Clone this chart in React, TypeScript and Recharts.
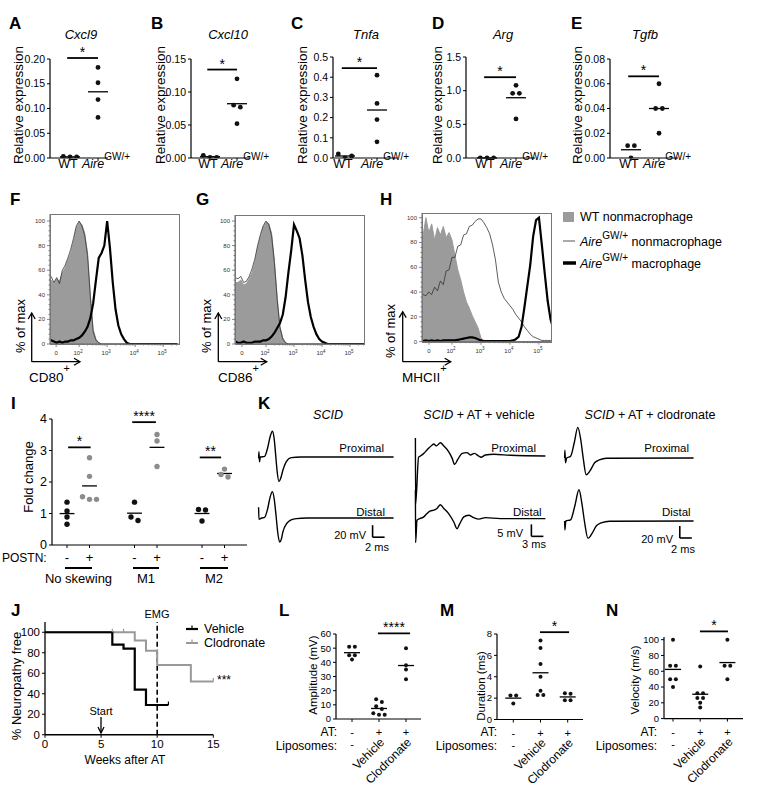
import React from 'react';
import {
  ScatterChart,
  Scatter,
  ComposedChart,
  LineChart,
  Line,
  Area,
  XAxis,
  YAxis,
  ReferenceLine,
  ReferenceDot,
} from 'recharts';

const FONT = '"Liberation Sans", Arial, Helvetica, sans-serif';
const BLACK = '#111';
const GRAY = '#8c8c8c';

// ---------- A–E: relative expression ----------
const genotypes = ['WT', 'Aire'];
const aireSup = 'GW/+';
const cxcl9WT = [0.003, 0.002, 0.002];
const cxcl9Aire = [0.183, 0.152, 0.118, 0.082];
const cxcl10WT = [0.004, 0.001, 0.001];
const cxcl10Aire = [0.12, 0.08, 0.077, 0.052];
const tnfaWT = [0.02, 0.0, 0.01];
const tnfaAire = [0.41, 0.27, 0.19, 0.08];
const argWT = [0, 0, 0];
const argAire = [1.08, 0.96, 0.96, 0.58];
const tgfbWT = [0.01, 0.01, 0.0];
const tgfbAire = [0.06, 0.04, 0.04, 0.02];
const cxcl9Ticks = [0, 0.05, 0.1, 0.15, 0.2];
const cxcl10Ticks = [0, 0.05, 0.1, 0.15];
const tnfaTicks = [0, 0.1, 0.2, 0.3, 0.4, 0.5];
const argTicks = [0, 0.5, 1.0, 1.5];
const tgfbTicks = [0, 0.02, 0.04, 0.06, 0.08];

// ---------- F–H: flow histograms (% of max vs log fluorescence, decades) ----------
const histX = [-0.1, 0, 0.1, 0.2, 0.3, 0.4, 0.5, 0.6, 0.7, 0.8, 0.9, 1, 1.1, 1.2, 1.3, 1.4, 1.5, 1.6, 1.7, 1.8, 1.9, 2, 2.1, 2.2, 2.3, 2.4, 2.5, 2.6, 2.7, 2.8, 2.9, 3, 3.1, 3.2, 3.3, 3.4, 3.5, 3.6, 3.7, 3.8, 3.9, 4, 4.1, 4.2, 4.3, 4.4, 4.5];
const cd80Wt = [52, 52, 49, 53, 51, 58, 62, 68, 74, 83, 94, 99, 97, 90, 74, 40, 12, 4, 1, 0, 0, 0, 0, 0, 0, 0, 0, 0, 0, 0, 0, 0, 0, 0, 0, 0, 0, 0, 0, 0, 0, 0, 0, 0, 0, 0, 0];
const cd80AireNon = [56, 55, 50, 54, 49, 60, 64, 70, 77, 86, 96, 100, 96, 88, 72, 38, 10, 3, 1, 0, 0, 0, 0, 0, 0, 0, 0, 0, 0, 0, 0, 0, 0, 0, 0, 0, 0, 0, 0, 0, 0, 0, 0, 0, 0, 0, 0];
const cd80AireMac = [4, 3, 2, 1, 2, 1, 2, 2, 3, 3, 4, 5, 7, 10, 14, 21, 33, 52, 70, 74, 80, 100, 78, 50, 28, 15, 8, 4, 1, 0, 0, 0, 0, 0, 0, 0, 0, 0, 0, 0, 0, 0, 0, 0, 0, 0, 0];
const cd86Wt = [50, 50, 52, 48, 49, 53, 58, 66, 78, 87, 95, 99, 98, 90, 68, 38, 14, 5, 1, 0, 0, 0, 0, 0, 0, 0, 0, 0, 0, 0, 0, 0, 0, 0, 0, 0, 0, 0, 0, 0, 0, 0, 0, 0, 0, 0, 0];
const cd86AireNon = [54, 53, 55, 50, 51, 55, 61, 69, 80, 89, 96, 100, 97, 88, 66, 36, 13, 4, 1, 0, 0, 0, 0, 0, 0, 0, 0, 0, 0, 0, 0, 0, 0, 0, 0, 0, 0, 0, 0, 0, 0, 0, 0, 0, 0, 0, 0];
const cd86AireMac = [2, 1, 1, 2, 1, 1, 1, 2, 2, 2, 3, 3, 4, 6, 9, 13, 17, 24, 38, 58, 76, 97, 92, 86, 72, 52, 34, 22, 14, 8, 4, 2, 1, 0, 0, 0, 0, 0, 0, 0, 0, 0, 0, 0, 0, 0, 0];
const mhcWt = [80, 85, 100, 88, 95, 82, 92, 86, 93, 84, 88, 82, 70, 58, 50, 40, 32, 27, 21, 16, 11, 3, 0, 0, 0, 0, 0, 0, 0, 0, 0, 0, 0, 0, 0, 0, 0, 0, 0, 0, 0, 0, 0, 0, 0, 0, 0];
const mhcAireNon = [38, 38, 37, 40, 38, 44, 41, 49, 46, 57, 58, 68, 68, 77, 78, 86, 87, 93, 94, 97, 99, 99, 96, 92, 87, 78, 66, 48, 40, 35, 32, 29, 26, 22, 19, 16, 12, 9, 6, 4, 3, 2, 1, 1, 1, 1, 1];
const mhcAireMac = [1, 0.5, 1, 0.5, 1, 0.5, 1, 0.5, 1, 1, 1, 1, 1, 1.5, 2, 2.5, 3, 3.5, 3.5, 3, 2, 1, 0.5, 0.5, 0.5, 0.5, 0.5, 0.5, 0.5, 0.5, 0.5, 0.5, 1, 2, 4, 12, 28, 45, 62, 85, 98, 100, 78, 55, 33, 18, 10];
const histYTicks = [0, 4, 8, 12, 16, 20, 24, 28, 32, 36, 40, 44, 48, 52, 56, 60, 64, 68, 72, 76, 80, 84, 88, 92, 96, 100];
const decadeExp = [2, 3, 4, 5];

// ---------- I: fold change ----------
const skewGroups = ['No skewing', 'M1', 'M2'];
const postnSigns = ['-', '+', '-', '+', '-', '+'];
const skewPositions = [0, 1, 3, 4, 6, 7];
const noSkewMinus = [1.36, 1.08, 0.89, 0.66];
const noSkewPlus = [2.77, 2.18, 1.53, 1.45, 1.45];
const m1Minus = [1.36, 0.89, 0.78];
const m1Plus = [3.51, 3.3, 2.49];
const m2Minus = [1.13, 1.11, 0.76];
const m2Plus = [2.41, 2.24, 2.16];
const foldTicks = [0, 1, 2, 3, 4];

// ---------- J: survival ----------
const vehicleWeeks = [0, 6, 7, 8, 9, 11];
const vehicleFree = [100, 88, 84, 44, 29, 29];
const clodronateWeeks = [0, 8, 9, 10, 13, 15];
const clodronateFree = [100, 92, 82, 68, 52, 52];
const vehicleCensored = [11];
const clodronateCensored = [6, 7, 15];
const weekTicks = [0, 5, 10, 15];
const freeTicks = [0, 20, 40, 60, 80, 100];

// ---------- K: EMG traces [ms, mV] ----------
const scidProximal = [[0, -2], [0.05, 9], [0.15, -8], [0.3, 0], [1.0, 1], [1.5, 15], [1.9, 33], [2.3, 43], [2.6, 30], [2.85, 3], [3.1, -25], [3.4, -41], [3.7, -35], [4.05, -22], [4.6, -8], [5.45, -1], [7, 0], [22.5, 0]];
const scidDistal = [[0, 18], [0.05, -2], [0.5, 0], [1.0, 1], [1.5, 15], [1.9, 34], [2.3, 44], [2.6, 32], [2.9, 5], [3.2, -25], [3.5, -40], [3.8, -35], [4.05, -23], [4.7, -9], [5.45, -3], [6.3, -1], [8, 0], [22.5, 0]];
const vehicleProximal = [[0, 7.5], [0.05, -20], [0.8, -0.5], [1.25, 0], [2.1, 1.1], [2.9, 2.5], [4.2, 4.6], [4.6, 5], [5.25, 4.2], [6.25, 5.5], [7.1, 4.2], [8.3, 1.8], [9.2, -1], [9.8, -3.5], [10.6, -1.4], [11.7, 1.1], [12.9, 1.4], [13.75, 0.4], [14.75, 1.1], [15.8, 0], [16.4, -0.5], [17.5, 0.4], [19.6, 0.7], [23.75, 0.3], [32.5, 0]];
const vehicleDistal = [[0, 12], [0.05, -10], [0.4, -0.7], [1.1, 0], [2.1, 0.7], [2.9, 2.1], [3.75, 3.2], [4.6, 3.5], [5.4, 4.2], [6.25, 5.8], [7.1, 4.2], [8.3, 2.1], [9.6, -1.4], [10.4, -4.2], [11.1, -2.1], [12.1, 0.7], [13.3, 1.4], [14.6, 0.4], [15.8, -0.2], [17.5, 0.4], [21.25, 0], [32.5, 0]];
const clodProximal = [[0, 0], [0.05, 13], [0.15, -8], [0.35, 0], [1.0, 3], [1.6, 25], [2.2, 51], [2.7, 30], [3.1, 0], [3.6, -28], [4.2, -22], [5, -8], [5.8, -3], [7, -0.5], [21.5, 0]];
const clodDistal = [[0, 0], [0.05, -15], [0.2, 0], [1.0, 2], [1.7, 25], [2.4, 52], [2.9, 28], [3.3, 0], [3.9, -29], [4.5, -22], [5.3, -8], [6.1, -3], [7.5, -0.5], [21.5, 0]];

// ---------- L–N: EMG summary ----------
const atSigns = ['-', '+', '+'];
const liposomeLabels = ['-', 'Vehicle', 'Clodronate'];
const ampControl = [51, 51, 45, 45, 42];
const ampVehicle = [14, 12, 9, 7, 4, 3, 3];
const ampClodronate = [50, 38, 35, 28];
const durControl = [2.25, 2.25, 1.5];
const durVehicle = [7.4, 6.7, 5.2, 4.0, 2.7, 2.3, 2.3];
const durClodronate = [2.45, 2.4, 1.8, 1.8];
const velControl = [100, 67, 67, 50, 50, 40];
const velVehicle = [66, 32, 32, 26, 26, 20, 14];
const velClodronate = [100, 67, 67, 50];
const ampTicks = [0, 10, 20, 30, 40, 50, 60];
const durTicks = [0, 2, 4, 6, 8];
const velTicks = [0, 20, 40, 60, 80, 100];

// ---------- helpers ----------
const mean = (a: number[]) => a.reduce((s, v) => s + v, 0) / a.length;

// horizontal spread of dots whose values sit too close together (beeswarm-like)
function spreadOffsets(values: number[], tol: number): number[] {
  const idx = values.map((_, i) => i).sort((a, b) => values[a] - values[b]);
  const offs = values.map(() => 0);
  let cluster: number[] = [];
  const flush = () => {
    const ordered = [...cluster].sort((a, b) => a - b);
    ordered.forEach((id, k) => {
      offs[id] = k - (ordered.length - 1) / 2;
    });
    cluster = [];
  };
  idx.forEach((id, k) => {
    if (k > 0 && values[id] - values[idx[k - 1]] >= tol) flush();
    cluster.push(id);
  });
  flush();
  return offs;
}

interface DotGroup {
  x: number;
  values: number[];
  color: string;
}
interface SigBar {
  x1: number;
  x2: number;
  y: number;
  label: string;
}
interface DotPlotProps {
  plot: { left: number; right: number; top: number; bottom: number };
  xDomain: [number, number];
  yDomain: [number, number];
  yTicks: number[];
  yFmt: (v: number) => string;
  groups: DotGroup[];
  sigs: SigBar[];
  r: number;
  gap: number;
  tol: number;
  meanHalf: number;
  xTicks: number[];
  xTick: any;
  tickFont: number;
  starFont: number;
}

function DotPlot(p: DotPlotProps) {
  const padL = 44;
  const padT = 30;
  const padR = 40;
  const padB = 80;
  const w = p.plot.right - p.plot.left + padL + padR;
  const h = p.plot.bottom - p.plot.top + padT + padB;
  return (
    <div style={{ position: 'absolute', left: p.plot.left - padL, top: p.plot.top - padT }}>
      <ScatterChart width={w} height={h} margin={{ top: padT, right: padR, bottom: 0, left: 0 }}>
        <XAxis
          type="number"
          dataKey="x"
          domain={p.xDomain}
          allowDataOverflow
          ticks={p.xTicks}
          interval={0}
          height={padB}
          tickSize={3}
          tickMargin={1}
          axisLine={{ stroke: '#000', strokeWidth: 1.2 }}
          tickLine={{ stroke: '#000' }}
          tick={p.xTick}
        />
        <YAxis
          type="number"
          dataKey="y"
          domain={p.yDomain}
          allowDataOverflow
          ticks={p.yTicks}
          interval={0}
          width={padL}
          tickSize={3}
          tickMargin={2}
          tickFormatter={p.yFmt}
          axisLine={{ stroke: '#000', strokeWidth: 1.2 }}
          tickLine={{ stroke: '#000' }}
          tick={{ fontSize: p.tickFont, fill: '#000' }}
        />
        {p.groups.map((g, gi) => {
          const offs = spreadOffsets(g.values, p.tol);
          const pts = g.values.map((v, i) => ({ x: g.x, y: v, off: offs[i] }));
          return (
            <Scatter
              key={`g${gi}`}
              data={pts}
              isAnimationActive={false}
              shape={(s: any) => <circle cx={s.cx + s.payload.off * p.gap} cy={s.cy} r={p.r} fill={g.color} />}
            />
          );
        })}
        {p.groups.map((g, gi) => {
          const m = mean(g.values);
          return (
            <ReferenceLine
              key={`m${gi}`}
              segment={[{ x: g.x - p.meanHalf, y: m }, { x: g.x + p.meanHalf, y: m }]}
              stroke="#000"
              strokeWidth={1.3}
              ifOverflow="visible"
            />
          );
        })}
        {p.sigs.map((s, si) => (
          <ReferenceLine
            key={`s${si}`}
            segment={[{ x: s.x1, y: s.y }, { x: s.x2, y: s.y }]}
            stroke="#000"
            strokeWidth={1.8}
            ifOverflow="visible"
          />
        ))}
        {p.sigs.map((s, si) => (
          <ReferenceDot
            key={`t${si}`}
            x={(s.x1 + s.x2) / 2}
            y={s.y}
            r={0}
            fill="none"
            stroke="none"
            ifOverflow="visible"
            label={{ value: s.label, position: 'top', offset: 1, fontSize: p.starFont, fill: '#000' }}
          />
        ))}
      </ScatterChart>
    </div>
  );
}

function GenotypeTick({ x, y, payload }: any) {
  if (payload.value === 1) {
    return (
      <text x={x - 2} y={y + 6} textAnchor="middle" fontSize={12.5} fill="#000">
        {genotypes[0]}
      </text>
    );
  }
  return (
    <text x={x - 16} y={y + 6} fontSize={12.5} fill="#000">
      <tspan fontStyle="italic">{genotypes[1]}</tspan>
      <tspan dy={-8} fontSize={10}>{aireSup}</tspan>
    </text>
  );
}

function PostnTick({ x, y, payload }: any) {
  const i = skewPositions.indexOf(payload.value);
  return (
    <text x={x} y={y + 13} textAnchor="middle" fontSize={13} fill="#000">
      {postnSigns[i]}
    </text>
  );
}

function TreatTick({ x, y, payload }: any) {
  const i = payload.value - 1;
  return (
    <g>
      <text x={x} y={y + 13} textAnchor="middle" fontSize={11} fill="#000">
        {atSigns[i]}
      </text>
      {i === 0 ? (
        <text x={x} y={y + 25} textAnchor="middle" fontSize={11} fill="#000">
          {liposomeLabels[0]}
        </text>
      ) : (
        <text x={x + 6} y={y + 20} textAnchor="end" fontSize={12} fill="#000" transform={`rotate(-45 ${x + 6} ${y + 20})`}>
          {liposomeLabels[i]}
        </text>
      )}
    </g>
  );
}

// gene panel layout (px)
const genePanels = [
  { letter: 'A', title: 'Cxcl9', wt: cxcl9WT, aire: cxcl9Aire, ticks: cxcl9Ticks, sig: 0.202, dec: 2, left: 50, right: 108, top: 59, c1: 70, c2: 98, titleX: 81, letterX: 9, labelX: 18 },
  { letter: 'B', title: 'Cxcl10', wt: cxcl10WT, aire: cxcl10Aire, ticks: cxcl10Ticks, sig: 0.134, dec: 2, left: 191, right: 250, top: 59, c1: 210, c2: 237, titleX: 228, letterX: 151, labelX: 160 },
  { letter: 'C', title: 'Tnfa', wt: tnfaWT, aire: tnfaAire, ticks: tnfaTicks, sig: 0.445, dec: 1, left: 333, right: 397, top: 57, c1: 345, c2: 377, titleX: 366, letterX: 291, labelX: 302 },
  { letter: 'D', title: 'Arg', wt: argWT, aire: argAire, ticks: argTicks, sig: 1.2, dec: 1, left: 466, right: 535, top: 57, c1: 487, c2: 516, titleX: 503, letterX: 432, labelX: 437 },
  { letter: 'E', title: 'Tgfb', wt: tgfbWT, aire: tgfbAire, ticks: tgfbTicks, sig: 0.066, dec: 2, left: 610, right: 678, top: 59, c1: 631, c2: 659, titleX: 645, letterX: 571, labelX: 577 },
];

function GenePanel({ cfg }: any) {
  const unit = cfg.c2 - cfg.c1;
  const yMax = cfg.ticks[cfg.ticks.length - 1];
  return (
    <DotPlot
      plot={{ left: cfg.left, right: cfg.right, top: cfg.top, bottom: 158 }}
      xDomain={[1 - (cfg.c1 - cfg.left) / unit, 2 + (cfg.right - cfg.c2) / unit]}
      yDomain={[0, yMax]}
      yTicks={cfg.ticks}
      yFmt={(v) => v.toFixed(cfg.dec)}
      groups={[
        { x: 1, values: cfg.wt, color: BLACK },
        { x: 2, values: cfg.aire, color: BLACK },
      ]}
      sigs={[{ x1: 0.9, x2: 2, y: cfg.sig, label: '*' }]}
      r={2.4}
      gap={6.7}
      tol={yMax * 0.045}
      meanHalf={10 / unit}
      xTicks={[1, 2]}
      xTick={(t: any) => <GenotypeTick {...t} />}
      tickFont={10.5}
      starFont={14}
    />
  );
}

// ---------- histogram ----------
function HistYTick({ x, y, payload }: any) {
  const major = payload.value % 20 === 0;
  return (
    <g>
      <line x1={x - (major ? 3 : 1.5)} x2={x} y1={y} y2={y} stroke="#555" strokeWidth={0.7} />
      {major && (
        <text x={x - 5} y={y} textAnchor="end" dominantBaseline="central" fontSize={6} fill="#333">
          {payload.value}
        </text>
      )}
    </g>
  );
}

function HistXTick({ x, y, payload, zeroPos }: any) {
  const v = payload.value;
  const isZero = Math.abs(v - zeroPos) < 1e-6;
  const decade = decadeExp.findIndex((_, i) => Math.abs(v - (i + 1)) < 1e-6);
  const major = isZero || decade >= 0;
  return (
    <g>
      <line x1={x} x2={x} y1={y} y2={y + (major ? 3 : 1.5)} stroke="#555" strokeWidth={0.7} />
      {isZero && (
        <text x={x} y={y + 9} textAnchor="middle" dominantBaseline="central" fontSize={6} fill="#333">
          0
        </text>
      )}
      {decade >= 0 && (
        <text x={x - 1} y={y + 9} textAnchor="middle" dominantBaseline="central" fontSize={6} fill="#333">
          10
          <tspan dy={-2.5} fontSize={4.5}>
            {decadeExp[decade]}
          </tspan>
        </text>
      )}
    </g>
  );
}

function Histo({ left, right, top100, bottom0, boxTop, xDomain, zeroPos, wt, aireNon, aireMac }: any) {
  const yMax = (100 * (bottom0 - boxTop)) / (bottom0 - top100);
  const padL = 26;
  const padT = 4;
  const padR = 4;
  const padB = 16;
  const rows = histX.map((x, i) => ({ x, wt: wt[i], non: aireNon[i], mac: aireMac[i] }));
  const minor: number[] = [];
  decadeExp.forEach((_, d) => {
    for (let k = 2; k < 10; k++) {
      const v = d + 1 + Math.log10(k);
      if (v < xDomain[1]) minor.push(v);
    }
  });
  const ticks = [zeroPos, 1, 2, 3, 4, ...minor];
  return (
    <>
      <div style={{ position: 'absolute', left: left - padL, top: boxTop - padT }}>
        <ComposedChart
          width={right - left + padL + padR}
          height={bottom0 - boxTop + padT + padB}
          data={rows}
          margin={{ top: padT, right: padR, bottom: 0, left: 0 }}
        >
          <XAxis
            type="number"
            dataKey="x"
            domain={xDomain}
            allowDataOverflow
            ticks={ticks}
            interval={0}
            tickSize={0}
            tickMargin={0}
            tickLine={false}
            height={padB}
            axisLine={{ stroke: '#666' }}
            tick={(t: any) => <HistXTick {...t} zeroPos={zeroPos} />}
          />
          <YAxis
            type="number"
            domain={[0, yMax]}
            allowDataOverflow
            ticks={histYTicks}
            interval={0}
            tickSize={0}
            tickMargin={0}
            tickLine={false}
            width={padL}
            axisLine={{ stroke: '#666' }}
            tick={(t: any) => <HistYTick {...t} />}
          />
          <Area type="linear" dataKey="wt" fill="#9b9b9b" stroke="#9b9b9b" fillOpacity={1} dot={false} activeDot={false} isAnimationActive={false} />
          <Line type="linear" dataKey="non" stroke="#333" strokeWidth={0.8} dot={false} activeDot={false} isAnimationActive={false} />
          <Line type="linear" dataKey="mac" stroke="#000" strokeWidth={2.2} dot={false} activeDot={false} isAnimationActive={false} />
        </ComposedChart>
      </div>
      <div
        style={{
          position: 'absolute',
          left,
          top: boxTop,
          width: right - left,
          height: bottom0 - boxTop + 1,
          border: '1px solid #777',
          boxSizing: 'border-box',
          pointerEvents: 'none',
        }}
      />
    </>
  );
}

// ---------- EMG trace ----------
function Trace({ pts, left, baseY, pxMs, pxMv, tMax, vMin, vMax, bar }: any) {
  const tMin = -0.6;
  const width = (tMax - tMin) * pxMs;
  const height = (vMax - vMin) * pxMv;
  const rows = pts.map((q: number[]) => ({ t: q[0], v: q[1] }));
  return (
    <div style={{ position: 'absolute', left: left + tMin * pxMs, top: baseY - vMax * pxMv }}>
      <LineChart width={width} height={height} data={rows} margin={{ top: 0, right: 0, bottom: 0, left: 0 }}>
        <XAxis type="number" dataKey="t" domain={[tMin, tMax]} allowDataOverflow hide height={0} />
        <YAxis type="number" domain={[vMin, vMax]} allowDataOverflow hide width={0} />
        <Line type="monotone" dataKey="v" stroke="#000" strokeWidth={1.4} dot={false} activeDot={false} isAnimationActive={false} />
        {bar && (
          <ReferenceLine
            segment={[{ x: bar.t, y: bar.v }, { x: bar.t, y: bar.v + bar.dv }]}
            stroke="#000"
            strokeWidth={1.6}
            ifOverflow="visible"
          />
        )}
        {bar && (
          <ReferenceLine
            segment={[{ x: bar.t, y: bar.v }, { x: bar.t + bar.dt, y: bar.v }]}
            stroke="#000"
            strokeWidth={1.6}
            ifOverflow="visible"
          />
        )}
      </LineChart>
    </div>
  );
}

// ---------- survival ----------
function stepValue(weeks: number[], vals: number[], x: number) {
  let v = vals[0];
  weeks.forEach((w, i) => {
    if (w <= x) v = vals[i];
  });
  return v;
}

function Survival() {
  const left = 45;
  const right = 213.3;
  const top = 622.25;
  const bottom = 735;
  const padL = 30;
  const padT = 10;
  const padR = 10;
  const padB = 25;
  const veh = vehicleWeeks.map((x, i) => ({ x, y: vehicleFree[i] }));
  const clo = clodronateWeeks.map((x, i) => ({ x, y: clodronateFree[i] }));
  const vehC = vehicleCensored.map((x) => ({ x, y: stepValue(vehicleWeeks, vehicleFree, x) }));
  const cloC = clodronateCensored.map((x) => ({ x, y: stepValue(clodronateWeeks, clodronateFree, x) }));
  const tick = (color: string) => (s: any) => (
    <line x1={s.cx} x2={s.cx} y1={s.cy - 3.5} y2={s.cy} stroke={color} strokeWidth={1.2} />
  );
  return (
    <div style={{ position: 'absolute', left: left - padL, top: top - padT }}>
      <ComposedChart width={right - left + padL + padR} height={bottom - top + padT + padB} margin={{ top: padT, right: padR, bottom: 0, left: 0 }}>
        <XAxis
          type="number"
          dataKey="x"
          domain={[0, 15]}
          ticks={weekTicks}
          interval={0}
          height={padB}
          tickSize={3}
          tickMargin={2}
          axisLine={{ stroke: '#000', strokeWidth: 1.3 }}
          tickLine={{ stroke: '#000' }}
          tick={{ fontSize: 11.5, fill: '#000' }}
        />
        <YAxis
          type="number"
          dataKey="y"
          domain={[0, 110]}
          ticks={freeTicks}
          interval={0}
          width={padL}
          tickSize={3}
          tickMargin={2}
          axisLine={{ stroke: '#000', strokeWidth: 1.3 }}
          tickLine={{ stroke: '#000' }}
          tick={{ fontSize: 11.5, fill: '#000' }}
        />
        <ReferenceLine x={10} stroke="#000" strokeDasharray="5 3" strokeWidth={1.6} />
        <Line data={clo} dataKey="y" type="stepAfter" stroke="#999" strokeWidth={2} dot={false} activeDot={false} isAnimationActive={false} />
        <Line data={veh} dataKey="y" type="stepAfter" stroke="#000" strokeWidth={2.2} dot={false} activeDot={false} isAnimationActive={false} />
        <Scatter data={cloC} dataKey="y" shape={tick('#999')} isAnimationActive={false} />
        <Scatter data={vehC} dataKey="y" shape={tick('#000')} isAnimationActive={false} />
      </ComposedChart>
    </div>
  );
}

function Txt({ x, y, children, size = 12, anchor = 'start', rotate, italic, bold }: any) {
  return (
    <text
      x={x}
      y={y}
      fontSize={size}
      textAnchor={anchor}
      dominantBaseline="central"
      fontStyle={italic ? 'italic' : undefined}
      fontWeight={bold ? 'bold' : undefined}
      transform={rotate ? `rotate(${rotate} ${x} ${y})` : undefined}
      fill="#000"
    >
      {children}
    </text>
  );
}

function Arrows({ x, top, bottom, right }: any) {
  return (
    <g stroke="#000" strokeWidth={1.3} fill="none">
      <line x1={x} y1={bottom} x2={x} y2={top} />
      <polyline points={`${x - 3.5},${top + 6} ${x},${top} ${x + 3.5},${top + 6}`} />
      <line x1={x} y1={bottom} x2={right} y2={bottom} />
      <polyline points={`${right - 6},${bottom - 3.5} ${right},${bottom} ${right - 6},${bottom + 3.5}`} />
    </g>
  );
}

export default function App() {
  const lUnit = 27;
  const mUnit = 27.2;
  const nUnit = 27.2;
  return (
    <div style={{ position: 'absolute', left: 0, top: 0, width: 783, height: 800, background: '#fff', fontFamily: FONT, overflow: 'hidden' }}>
      {genePanels.map((cfg) => (
        <GenePanel key={cfg.letter} cfg={cfg} />
      ))}

      <Histo left={50} right={180} top100={221} bottom0={344} boxTop={214} xDomain={[-0.04, 4.6]} zeroPos={0.18} wt={cd80Wt} aireNon={cd80AireNon} aireMac={cd80AireMac} />
      <Histo left={235} right={365} top100={221} bottom0={344} boxTop={215} xDomain={[-0.107, 4.536]} zeroPos={0.143} wt={cd86Wt} aireNon={cd86AireNon} aireMac={cd86AireMac} />
      <Histo left={422} right={552} top100={217.7} bottom0={341.7} boxTop={213} xDomain={[-0.034, 4.45]} zeroPos={0.207} wt={mhcWt} aireNon={mhcAireNon} aireMac={mhcAireMac} />

      <DotPlot
        plot={{ left: 52, right: 247, top: 419, bottom: 545 }}
        xDomain={[-0.667, 8]}
        yDomain={[0, 4]}
        yTicks={foldTicks}
        yFmt={(v) => String(v)}
        groups={[
          { x: 0, values: noSkewMinus, color: BLACK },
          { x: 1, values: noSkewPlus, color: GRAY },
          { x: 3, values: m1Minus, color: BLACK },
          { x: 4, values: m1Plus, color: GRAY },
          { x: 6, values: m2Minus, color: BLACK },
          { x: 7, values: m2Plus, color: GRAY },
        ]}
        sigs={[
          { x1: 0.05, x2: 1.05, y: 3.1, label: '*' },
          { x1: 2.9, x2: 3.95, y: 3.9, label: '****' },
          { x1: 5.9, x2: 6.85, y: 2.78, label: '**' },
        ]}
        r={2.7}
        gap={7}
        tol={0.16}
        meanHalf={0.33}
        xTicks={skewPositions}
        xTick={(t: any) => <PostnTick {...t} />}
        tickFont={12.5}
        starFont={14}
      />

      <Trace pts={scidProximal} left={259} baseY={457} pxMs={6} pxMv={0.6} tMax={22.8} vMin={-60} vMax={60} />
      <Trace pts={scidDistal} left={259} baseY={518} pxMs={6} pxMv={0.6} tMax={22.8} vMin={-60} vMax={60} bar={{ t: 19, v: -32, dt: 2, dv: 20 }} />
      <Trace pts={vehicleProximal} left={415} baseY={456} pxMs={4} pxMv={2.4} tMax={33} vMin={-25} vMax={10} />
      <Trace pts={vehicleDistal} left={415} baseY={518.3} pxMs={4} pxMv={2.4} tMax={33} vMin={-11} vMax={14} bar={{ t: 29, v: -7.4, dt: 3, dv: 5 }} />
      <Trace pts={clodProximal} left={565} baseY={458.3} pxMs={6} pxMv={0.6} tMax={21.8} vMin={-60} vMax={60} />
      <Trace pts={clodDistal} left={565} baseY={521} pxMs={6} pxMv={0.6} tMax={21.8} vMin={-60} vMax={60} bar={{ t: 19.2, v: -28.3, dt: 2, dv: 20 }} />

      <Survival />

      <DotPlot
        plot={{ left: 336, right: 421, top: 634, bottom: 719 }}
        xDomain={[1 - 16 / lUnit, 3 + 15 / lUnit]}
        yDomain={[0, 60]}
        yTicks={ampTicks}
        yFmt={(v) => String(v)}
        groups={[
          { x: 1, values: ampControl, color: BLACK },
          { x: 2, values: ampVehicle, color: BLACK },
          { x: 3, values: ampClodronate, color: BLACK },
        ]}
        sigs={[{ x1: 1.96, x2: 3.15, y: 60.5, label: '****' }]}
        r={2}
        gap={5.7}
        tol={2.4}
        meanHalf={8 / lUnit}
        xTicks={[1, 2, 3]}
        xTick={(t: any) => <TreatTick {...t} />}
        tickFont={9.5}
        starFont={14}
      />
      <DotPlot
        plot={{ left: 497, right: 583, top: 633.5, bottom: 719 }}
        xDomain={[1 - 16.3 / mUnit, 3 + 15.3 / mUnit]}
        yDomain={[0, 8]}
        yTicks={durTicks}
        yFmt={(v) => String(v)}
        groups={[
          { x: 1, values: durControl, color: BLACK },
          { x: 2, values: durVehicle, color: BLACK },
          { x: 3, values: durClodronate, color: BLACK },
        ]}
        sigs={[{ x1: 1.98, x2: 3.05, y: 8.17, label: '*' }]}
        r={2}
        gap={5.7}
        tol={0.32}
        meanHalf={8 / mUnit}
        xTicks={[1, 2, 3]}
        xTick={(t: any) => <TreatTick {...t} />}
        tickFont={9.5}
        starFont={14}
      />
      <DotPlot
        plot={{ left: 664, right: 743, top: 636.7, bottom: 718.3 }}
        xDomain={[1 - 9 / nUnit, 3 + 15.6 / nUnit]}
        yDomain={[0, 103.4]}
        yTicks={velTicks}
        yFmt={(v) => String(v)}
        groups={[
          { x: 1, values: velControl, color: BLACK },
          { x: 2, values: velVehicle, color: BLACK },
          { x: 3, values: velClodronate, color: BLACK },
        ]}
        sigs={[{ x1: 1.99, x2: 3.02, y: 110.5, label: '*' }]}
        r={2}
        gap={5.7}
        tol={4}
        meanHalf={8 / nUnit}
        xTicks={[1, 2, 3]}
        xTick={(t: any) => <TreatTick {...t} />}
        tickFont={9.5}
        starFont={14}
      />

      <svg width={783} height={800} style={{ position: 'absolute', left: 0, top: 0, pointerEvents: 'none', fontFamily: FONT }}>
        {/* panel letters */}
        {[
          ['A', 9, 23], ['B', 151, 23], ['C', 291, 23], ['D', 432, 23], ['E', 571, 23],
          ['F', 10, 199], ['G', 196, 199], ['H', 380, 199],
          ['I', 11, 403], ['K', 258, 403],
          ['J', 11, 610], ['L', 279, 610], ['M', 440, 610], ['N', 606, 610],
        ].map(([l, x, y]) => (
          <Txt key={l as string} x={x} y={y} size={17} bold>
            {l}
          </Txt>
        ))}

        {/* A–E titles and axis labels */}
        {genePanels.map((cfg) => (
          <g key={`t${cfg.letter}`}>
            <Txt x={cfg.titleX} y={34} size={13} anchor="middle" italic>
              {cfg.title}
            </Txt>
            <Txt x={cfg.labelX} y={105} size={13.5} anchor="middle" rotate={-90}>
              Relative expression
            </Txt>
          </g>
        ))}

        {/* F–H axis labels */}
        <Txt x={20} y={326} size={13} anchor="middle" rotate={-90}>% of max</Txt>
        <Txt x={206} y={326} size={13} anchor="middle" rotate={-90}>% of max</Txt>
        <Txt x={390} y={331} size={13} anchor="middle" rotate={-90}>% of max</Txt>
        <Arrows x={31.7} top={313} bottom={361.7} right={80} />
        <Arrows x={218.3} top={313} bottom={361.7} right={266.7} />
        <Arrows x={402.7} top={311.7} bottom={361.7} right={450.7} />
        <text x={29} y={382} fontSize={13.5} fill="#000">
          CD80<tspan dy={-10} fontSize={11}>+</tspan>
        </text>
        <text x={218} y={382} fontSize={13.5} fill="#000">
          CD86<tspan dy={-10} fontSize={11}>+</tspan>
        </text>
        <text x={402} y={382} fontSize={13.5} fill="#000">
          MHCII<tspan dy={-10} fontSize={11}>+</tspan>
        </text>

        {/* F–H legend */}
        <rect x={563} y={212} width={11} height={10} fill="#9b9b9b" />
        <Txt x={580} y={217} size={12.5}>WT nonmacrophage</Txt>
        <line x1={563} x2={575} y1={241} y2={241} stroke="#555" strokeWidth={1} />
        <text x={580} y={245.5} fontSize={12.5} fill="#000">
          <tspan fontStyle="italic">Aire</tspan>
          <tspan dy={-7} fontSize={10}>GW/+</tspan>
          <tspan dy={7}> nonmacrophage</tspan>
        </text>
        <line x1={563} x2={576} y1={263} y2={263} stroke="#000" strokeWidth={3.5} />
        <text x={580} y={267.5} fontSize={12.5} fill="#000">
          <tspan fontStyle="italic">Aire</tspan>
          <tspan dy={-7} fontSize={10}>GW/+</tspan>
          <tspan dy={7}> macrophage</tspan>
        </text>

        {/* I labels */}
        <Txt x={28} y={477} size={13} anchor="middle" rotate={-90}>Fold change</Txt>
        <Txt x={2} y={558} size={12}>POSTN:</Txt>
        {[[65, 92], [133, 159], [200, 228]].map(([a, b], i) => (
          <g key={`u${i}`}>
            <line x1={a} x2={b} y1={568} y2={568} stroke="#000" strokeWidth={2} />
            <Txt x={(a + b) / 2} y={578} size={13} anchor="middle">
              {skewGroups[i]}
            </Txt>
          </g>
        ))}

        {/* K labels */}
        <Txt x={328} y={415} size={12.5} anchor="middle" italic>SCID</Txt>
        <text x={479} y={415} fontSize={12.5} textAnchor="middle" dominantBaseline="central" fill="#000">
          <tspan fontStyle="italic">SCID</tspan> + AT + vehicle
        </text>
        <text x={650} y={415} fontSize={12.5} textAnchor="middle" dominantBaseline="central" fill="#000">
          <tspan fontStyle="italic">SCID</tspan> + AT + clodronate
        </text>
        <Txt x={384} y={448} size={11.5} anchor="end">Proximal</Txt>
        <Txt x={385} y={511.7} size={11.5} anchor="end">Distal</Txt>
        <Txt x={536} y={448} size={11.5} anchor="end">Proximal</Txt>
        <Txt x={541.7} y={511.7} size={11.5} anchor="end">Distal</Txt>
        <Txt x={689} y={448} size={11.5} anchor="end">Proximal</Txt>
        <Txt x={690.7} y={511.7} size={11.5} anchor="end">Distal</Txt>
        <Txt x={366} y={535} size={11} anchor="end">20 mV</Txt>
        <Txt x={377} y={547} size={11} anchor="middle">2 ms</Txt>
        <Txt x={523} y={533} size={11} anchor="end">5 mV</Txt>
        <Txt x={534} y={544} size={11} anchor="middle">3 ms</Txt>
        <Txt x={673} y={539} size={11} anchor="end">20 mV</Txt>
        <Txt x={683} y={549} size={11} anchor="middle">2 ms</Txt>

        {/* J labels */}
        <Txt x={16} y={686} size={13} anchor="middle" rotate={-90}>% Neuropathy free</Txt>
        <Txt x={125} y={760} size={12} anchor="middle">Weeks after AT</Txt>
        <Txt x={157} y={614} size={11} anchor="middle">EMG</Txt>
        <Txt x={101} y={711} size={11} anchor="middle">Start</Txt>
        <g stroke="#000" strokeWidth={1.3} fill="none">
          <line x1={101} x2={101} y1={717} y2={732} />
          <polyline points="98,727 101,733 104,727" />
        </g>
        <Txt x={217} y={680} size={12}>***</Txt>
        <line x1={186} x2={198} y1={629} y2={629} stroke="#000" strokeWidth={2.2} />
        <line x1={192} x2={192} y1={625.5} y2={629} stroke="#000" strokeWidth={1.2} />
        <Txt x={204} y={629} size={12.5}>Vehicle</Txt>
        <line x1={186} x2={198} y1={643} y2={643} stroke="#999" strokeWidth={2} />
        <line x1={192} x2={192} y1={639.5} y2={643} stroke="#999" strokeWidth={1.2} />
        <Txt x={204} y={643} size={12.5}>Clodronate</Txt>

        {/* L–N labels */}
        <Txt x={313} y={675} size={11.5} anchor="middle" rotate={-90}>Amplitude (mV)</Txt>
        <Txt x={481} y={686} size={11.5} anchor="middle" rotate={-90}>Duration (ms)</Txt>
        <Txt x={635} y={680} size={11.5} anchor="middle" rotate={-90}>Velocity (m/s)</Txt>
        {[337, 497, 657].map((x) => (
          <g key={`at${x}`}>
            <Txt x={x} y={732} size={12} anchor="end">AT:</Txt>
            <Txt x={x} y={746} size={12} anchor="end">Liposomes:</Txt>
          </g>
        ))}
      </svg>
    </div>
  );
}
